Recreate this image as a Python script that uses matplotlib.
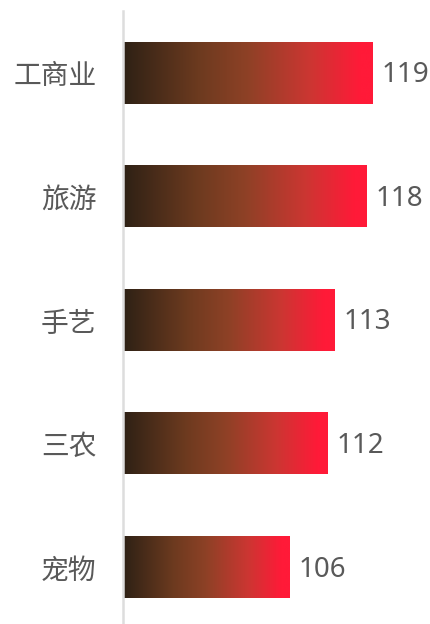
import matplotlib
matplotlib.use("Agg")
from matplotlib import pyplot as plt
from matplotlib.colors import LinearSegmentedColormap
import numpy as np

plt.rcParams["font.family"] = ["Noto Sans CJK SC", "DejaVu Sans"]

categories = ["工商业", "旅游", "手艺", "三农", "宠物"]
values = [119, 118, 113, 112, 106]

cmap = LinearSegmentedColormap.from_list(
    "bar_grad",
    [(0.0, "#2e2115"), (0.3, "#6c3a1f"), (0.5, "#8e4126"),
     (0.75, "#cc3632"), (0.95, "#ff1a38"), (1.0, "#ff1a38")],
)

fig = plt.figure(figsize=(4.31, 6.24), dpi=100)
ax = fig.add_axes([123 / 431, -5 / 624, 297 / 431, 618 / 624])

xmin, xmax = 80, 126.4
ax.set_xlim(xmin, xmax)
n = len(categories)
ax.set_ylim(n - 0.5, -0.5)

grad = np.linspace(0, 1, 256).reshape(1, -1)
h = 0.5
for i, (cat, v) in enumerate(zip(categories, values)):
    ax.imshow(grad, cmap=cmap, aspect="auto", extent=(xmin, v, i + h / 2, i - h / 2),
              interpolation="bilinear", zorder=2)
    ax.text(v + 1.4, i + 0.02, str(v), va="center", ha="left", fontsize=20,
            color="#595959", family=["Noto Sans", "DejaVu Sans"])

ax.set_yticks(range(n))
ax.set_yticklabels(categories, fontsize=20, color="#595959")
ax.tick_params(axis="y", length=0, pad=19)
ax.set_xticks([])
for s in ["top", "right", "bottom"]:
    ax.spines[s].set_visible(False)
ax.spines["left"].set_color("#dddddd")
ax.spines["left"].set_linewidth(1.8)
ax.spines["left"].set_zorder(3)
ax.set_xlim(xmin, xmax)
ax.set_ylim(n - 0.5, -0.5)

fig.savefig("out.png", dpi=100)
